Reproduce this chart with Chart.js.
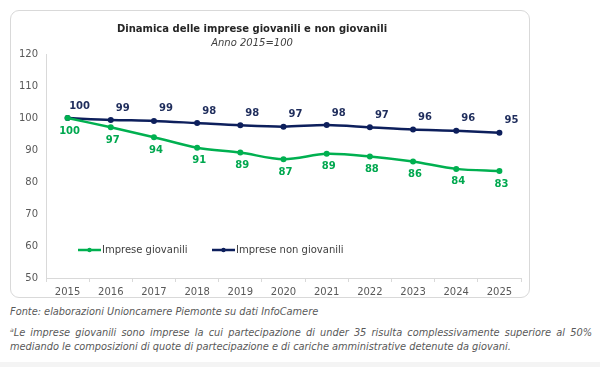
<!DOCTYPE html>
<html>
<head>
<meta charset="utf-8">
<script src="https://cdn.jsdelivr.net/npm/chart.js@4.4.1/dist/chart.umd.min.js"></script>
<style>
  html, body { margin:0; padding:0; background:#fff; }
  body { width:600px; height:367px; position:relative; overflow:hidden; font-family:"DejaVu Sans", Verdana, sans-serif; }
  #box { position:absolute; left:10px; top:10px; width:520px; height:288px; border:1px solid #d9d9d9; border-radius:9px; box-sizing:border-box; }
  #wrap { position:absolute; left:0; top:0; width:518px; height:286px; }
  .note { position:absolute; left:10px; width:582px; color:#595959; font-style:italic; font-size:9.8px; }
  #fonte { top:306px; }
  #foot { top:323px; line-height:14px; text-align:justify; text-align-last:left; }
  #foot sup { font-size:6px; vertical-align:4px; }
  #strip { position:absolute; left:0; top:362px; width:600px; height:5px; background:#f4f4f4; }
</style>
</head>
<body>
<div id="box"><div id="wrap"><canvas id="c"></canvas></div></div>
<div class="note" id="fonte">Fonte: elaborazioni Unioncamere Piemonte su dati InfoCamere</div>
<div class="note" id="foot"><sup>a</sup>Le imprese giovanili sono imprese la cui partecipazione di under 35 risulta complessivamente superiore al 50% mediando le composizioni di quote di partecipazione e di cariche amministrative detenute da giovani.</div>
<div id="strip"></div>
<script>
const years = ["2015","2016","2017","2018","2019","2020","2021","2022","2023","2024","2025"];
const giovanili = [100, 97.1, 94.0, 90.7, 89.2, 87.1, 88.8, 88.0, 86.4, 84.1, 83.4];
const nonGiovanili = [100, 99.4, 99.1, 98.4, 97.7, 97.3, 97.8, 97.1, 96.4, 96.0, 95.4];
const yTicks = [50, 60, 70, 80, 90, 100, 110, 120];
const chartTitle = "Dinamica delle imprese giovanili e non giovanili";
const chartSubtitle = "Anno 2015=100";

const GREEN = "#00b050";
const NAVY = "#0d1f5c";
const FONT = "'DejaVu Sans', Verdana, sans-serif";

const titlePlugin = {
  id: "titles",
  afterDraw(chart) {
    const ctx = chart.ctx;
    ctx.save();
    ctx.textAlign = "center";
    ctx.textBaseline = "middle";
    ctx.fillStyle = "#262626";
    ctx.font = "bold 10px " + FONT;
    ctx.fillText(chartTitle, 241, 18);
    ctx.fillStyle = "#404040";
    ctx.font = "italic 10px " + FONT;
    ctx.fillText(chartSubtitle, 241, 32);
    ctx.restore();
  }
};

const labelPlugin = {
  id: "valueLabels",
  afterDatasetsDraw(chart) {
    const ctx = chart.ctx;
    ctx.save();
    ctx.textAlign = "center";
    ctx.textBaseline = "middle";
    ctx.font = "bold 10px " + FONT;
    chart.data.datasets.forEach((ds, i) => {
      const meta = chart.getDatasetMeta(i);
      const dx = i === 0 ? 2 : 12;
      const dy = i === 0 ? 13 : -12;
      ctx.fillStyle = ds.labelColor;
      meta.data.forEach((pt, j) => {
        ctx.fillText(String(Math.round(ds.data[j])), pt.x + dx, pt.y + dy);
      });
    });
    ctx.restore();
  }
};

const legendPlugin = {
  id: "innerLegend",
  afterDraw(chart) {
    const ctx = chart.ctx;
    const y = 239;
    const starts = [67, 201];
    ctx.save();
    ctx.font = "10px " + FONT;
    ctx.textBaseline = "middle";
    chart.data.datasets.forEach((ds, i) => {
      const x = starts[i];
      ctx.strokeStyle = ds.borderColor;
      ctx.lineWidth = 2.5;
      ctx.beginPath(); ctx.moveTo(x, y); ctx.lineTo(x + 23, y); ctx.stroke();
      ctx.fillStyle = ds.borderColor;
      ctx.beginPath(); ctx.arc(x + 11.5, y, 2.2, 0, Math.PI * 2); ctx.fill();
      ctx.fillStyle = "#404040";
      ctx.fillText(ds.label, x + 24, y);
    });
    ctx.restore();
  }
};

new Chart(document.getElementById("c"), {
  type: "line",
  data: {
    labels: years,
    datasets: [
      { label: "Imprese giovanili", data: giovanili, borderColor: GREEN, backgroundColor: GREEN, labelColor: "#00a84f",
        borderWidth: 2.5, pointRadius: 3, pointBorderWidth: 0, pointBackgroundColor: GREEN, pointBorderColor: GREEN, tension: 0.3 },
      { label: "Imprese non giovanili", data: nonGiovanili, borderColor: NAVY, backgroundColor: NAVY, labelColor: "#1f2d5c",
        borderWidth: 2.5, pointRadius: 3, pointBorderWidth: 0, pointBackgroundColor: NAVY, pointBorderColor: NAVY, tension: 0.3 }
    ]
  },
  options: {
    responsive: true,
    maintainAspectRatio: false,
    animation: false,
    layout: { padding: { left: 0, right: 8, top: 43, bottom: 0 } },
    plugins: { legend: { display: false }, tooltip: { enabled: false }, title: { display: false } },
    scales: {
      x: {
        offset: true,
        grid: { display: true, offset: true, drawOnChartArea: false, drawTicks: true, tickLength: 4, color: "#d9d9d9" },
        border: { display: true, color: "#d9d9d9", width: 1 },
        ticks: { color: "#595959", font: { family: FONT, size: 10 }, padding: 4, maxRotation: 0, autoSkip: false },
        afterFit(s) { s.height = 19; }
      },
      y: {
        min: 50, max: 120,
        afterBuildTicks(s) { s.ticks = yTicks.map(v => ({ value: v })); },
        grid: { display: true, drawOnChartArea: false, drawTicks: false },
        border: { display: true, color: "#d9d9d9", width: 1 },
        ticks: { color: "#595959", font: { family: FONT, size: 10 }, padding: 8 },
        afterFit(s) { s.width = 35; }
      }
    }
  },
  plugins: [titlePlugin, labelPlugin, legendPlugin]
});
</script>
</body>
</html>
